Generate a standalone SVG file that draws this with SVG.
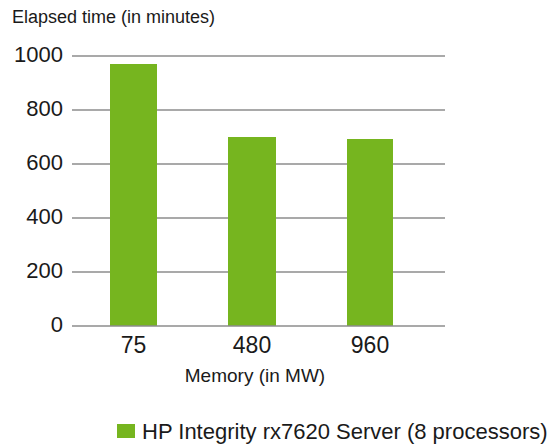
<svg xmlns="http://www.w3.org/2000/svg" width="554" height="446" viewBox="0 0 554 446">
  <style>
    text { font-family: "Liberation Sans", Arial, sans-serif; fill: #1a1a1a; }
    .tick { font-size: 22px; text-anchor: end; }
    .cat { font-size: 23px; text-anchor: middle; }
    .axis-title { font-size: 18px; }
    .grid { stroke: #8c8c8c; stroke-width: 1.5; fill: none; }
    .bar { fill: #76b51f; }
    .legend { font-size: 22px; }
  </style>
  <rect width="554" height="446" fill="#ffffff"/>

  <text class="axis-title" x="12" y="23">Elapsed time (in minutes)</text>

  <g id="gridlines">
    <line class="grid" x1="72" y1="56" x2="445" y2="56"/>
    <line class="grid" x1="72" y1="110" x2="445" y2="110"/>
    <line class="grid" x1="72" y1="164" x2="445" y2="164"/>
    <line class="grid" x1="72" y1="218" x2="445" y2="218"/>
    <line class="grid" x1="72" y1="272" x2="445" y2="272"/>
  </g>

  <g id="y-ticks">
    <text class="tick" x="63" y="62">1000</text>
    <text class="tick" x="63" y="116">800</text>
    <text class="tick" x="63" y="170">600</text>
    <text class="tick" x="63" y="224">400</text>
    <text class="tick" x="63" y="278">200</text>
    <text class="tick" x="63" y="332">0</text>
  </g>

  <g id="bar-75">
    <rect class="bar" x="110" y="64" width="47" height="262"/>
  </g>
  <g id="bar-480">
    <rect class="bar" x="228" y="137" width="48" height="189"/>
  </g>
  <g id="bar-960">
    <rect class="bar" x="347" y="139" width="46" height="187"/>
  </g>

  <line id="baseline" class="grid" x1="72" y1="326" x2="445" y2="326"/>

  <g id="x-labels">
    <text class="cat" x="133.5" y="353">75</text>
    <text class="cat" x="252" y="353">480</text>
    <text class="cat" x="370" y="353">960</text>
    <text class="axis-title" x="255" y="382" text-anchor="middle" style="font-size:19px">Memory (in MW)</text>
  </g>

  <g id="legend">
    <rect class="bar" x="117" y="424" width="18" height="14"/>
    <text class="legend" x="142" y="439">HP Integrity rx7620 Server (8 processors)</text>
  </g>
</svg>
